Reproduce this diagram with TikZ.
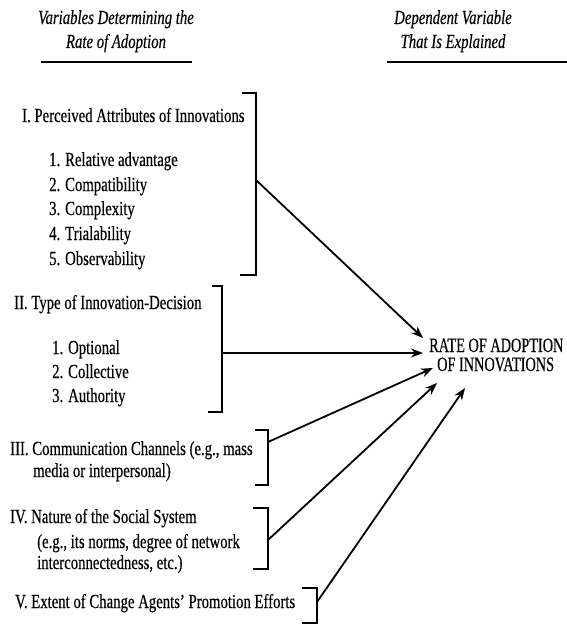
\documentclass[tikz,border=0pt]{standalone}
\usepackage{fontspec}
\setmainfont{Liberation Serif}[FakeStretch=0.74,FakeBold=0.4]
\newfontfamily\narrowfont{Liberation Serif}[FakeStretch=0.70,FakeBold=0.4]
\usetikzlibrary{arrows.meta}
\begin{document}
\begin{tikzpicture}[x=1bp,y=-1bp,
  txt/.style={anchor=base west, inner sep=0pt, font=\fontsize{20}{24}\selectfont},
  tgt/.style={anchor=base west, inner sep=0pt, font=\narrowfont\fontsize{20.5}{24}\selectfont},
  hdr/.style={anchor=base, inner sep=0pt, font=\fontsize{20}{24}\selectfont\itshape},
  rule/.style={line width=1.6bp},
  brk/.style={line width=1.6bp},
  arr/.style={line width=1.8bp, -{Stealth[length=12bp,width=9bp]}}]
\useasboundingbox (0,0) rectangle (567,624);

% headers
\node[hdr] (h1a) at (116,24) {Variables Determining the};
\node[hdr] (h1b) at (116,48) {Rate of Adoption};
\draw[rule] (41,62) -- (192,62);
\node[hdr] (h2a) at (453,24) {Dependent Variable};
\node[hdr] (h2b) at (453,48) {That Is Explained};
\draw[rule] (387,62) -- (567,62);

% group I
\node[txt] (g1) at (22,122) {I. Perceived Attributes of Innovations};
\node[txt] (g1a) at (49,166) {1. Relative advantage};
\node[txt] (g1b) at (49,191) {2. Compatibility};
\node[txt] (g1c) at (49,215) {3. Complexity};
\node[txt] (g1d) at (49,240) {4. Trialability};
\node[txt] (g1e) at (49,265) {5. Observability};
\draw[brk] (242,93) -- (256,93) -- (256,275) -- (240,275);
\coordinate (b1) at (256,180);

% group II
\node[txt] (g2) at (14,309) {II. Type of Innovation-Decision};
\node[txt] (g2a) at (52,354) {1. Optional};
\node[txt] (g2b) at (52,378) {2. Collective};
\node[txt] (g2c) at (52,402) {3. Authority};
\draw[brk] (212,286) -- (222,286) -- (222,412) -- (208,412);
\coordinate (b2) at (222,353);

% group III
\node[txt] (g3) at (10,455) {III. Communication Channels (e.g., mass};
\node[txt] (g3a) at (33,477) {media or interpersonal)};
\draw[brk] (255,430) -- (268,430) -- (268,485) -- (255,485);
\coordinate (b3) at (268,442);

% group IV
\node[txt] (g4) at (10,523) {IV. Nature of the Social System};
\node[txt] (g4a) at (37,548) {(e.g., its norms, degree of network};
\node[txt] (g4b) at (37,569) {interconnectedness, etc.)};
\draw[brk] (253,508) -- (268,508) -- (268,569) -- (253,569);
\coordinate (b4) at (268,540);

% group V
\node[txt] (g5) at (15,608) {V. Extent of Change Agents' Promotion Efforts};
\draw[brk] (302,588) -- (317,588) -- (317,623) -- (302,623);
\coordinate (b5) at (317,602);

% dependent variable
\node[tgt] (r1) at (429,352) {RATE OF ADOPTION};
\node[tgt] (r2) at (437,371) {OF INNOVATIONS};
\coordinate (e1) at (423,338);
\coordinate (e2) at (423,353);
\coordinate (e3) at (433,368);
\coordinate (e4) at (437,383);
\coordinate (e5) at (465,388);

\draw[arr] (b1) -- (e1);
\draw[arr] (b2) -- (e2);
\draw[arr] (b3) -- (e3);
\draw[arr] (b4) -- (e4);
\draw[arr] (b5) -- (e5);
\end{tikzpicture}
\end{document}
